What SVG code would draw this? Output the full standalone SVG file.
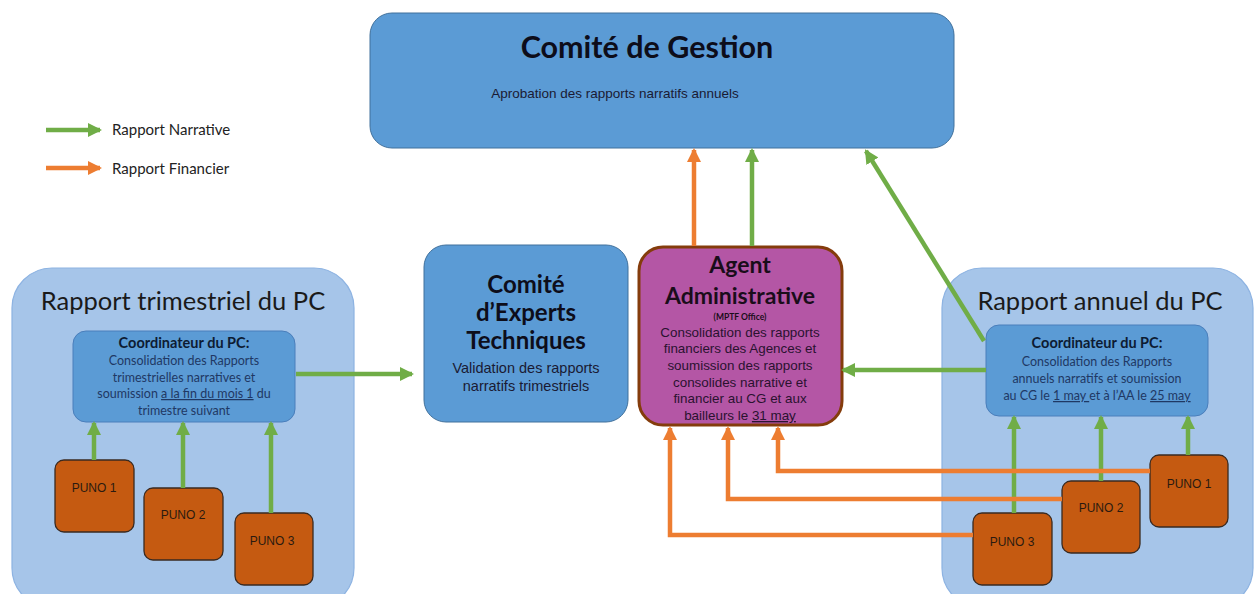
<svg xmlns="http://www.w3.org/2000/svg" width="1254" height="594" viewBox="0 0 1254 594">
<style>
.cont{fill:#A6C5E9;stroke:#8DB3E2;stroke-width:1.2}
.blue{fill:#5B9BD5;stroke:#41719C;stroke-width:1}
.coord{fill:#5B9BD5;stroke:#4A7EBB;stroke-width:1}
.puno{fill:#C55A11;stroke:#3A2A20;stroke-width:1.3}
.agent{fill:#B456A5;stroke:#843C0C;stroke-width:3}
.g{stroke:#70AD47;stroke-width:4.5;fill:none}
.o{stroke:#ED7D31;stroke-width:4.5;fill:none}
.cal{font-family:Lato,"Liberation Sans",sans-serif}
.ari{font-family:"Liberation Sans",Arial,sans-serif}
.ct{font-family:Lato,"Liberation Sans",sans-serif;font-size:12.5px;fill:#1F3864;text-anchor:middle}
.cb{font-family:Lato,"Liberation Sans",sans-serif;font-size:14.5px;font-weight:bold;fill:#0d1b33;text-anchor:middle}
.pt{font-family:"Liberation Sans",Arial,sans-serif;font-size:12px;fill:#2b1a10;text-anchor:middle}
.at{font-family:"Liberation Sans",Arial,sans-serif;font-size:13.4px;fill:#2a1230;text-anchor:middle}
</style>
<defs>
<marker id="ag" markerUnits="userSpaceOnUse" markerWidth="14" markerHeight="14" viewBox="0 0 14 14" refX="12" refY="7" orient="auto"><path d="M0,0 L14,7 L0,14 Z" fill="#70AD47"/></marker>
<marker id="ao" markerUnits="userSpaceOnUse" markerWidth="14" markerHeight="14" viewBox="0 0 14 14" refX="12" refY="7" orient="auto"><path d="M0,0 L14,7 L0,14 Z" fill="#ED7D31"/></marker>
</defs>

<g id="legend">
<line class="g" x1="46" y1="130" x2="100" y2="130" marker-end="url(#ag)"/>
<text class="cal" x="112" y="135" font-size="15" fill="#222">Rapport Narrative</text>
<line class="o" x1="46" y1="168" x2="100" y2="168" marker-end="url(#ao)"/>
<text class="cal" x="112" y="174" font-size="15" fill="#222">Rapport Financier</text>
</g>

<g id="comite-gestion">
<rect class="blue" x="370" y="13" width="584" height="135" rx="22"/>
<text class="cal" x="647" y="58" font-size="30.5" font-weight="bold" fill="#0d0d1a" text-anchor="middle">Comité de Gestion</text>
<text class="ari" x="615" y="98" font-size="13.5" fill="#1a1a33" text-anchor="middle">Aprobation  des rapports narratifs annuels</text>
</g>

<g id="trimestriel">
<rect class="cont" x="12" y="268" width="342" height="340" rx="40"/>
<text class="cal" x="183" y="310" font-size="25.5" fill="#1a1a1a" text-anchor="middle">Rapport trimestriel du PC</text>
</g>

<g id="coord-left">
<rect class="coord" x="73" y="331" width="222" height="91" rx="13"/>
<text class="cb" x="184" y="348">Coordinateur du PC:</text>
<text class="ct" x="184" y="365">Consolidation des Rapports</text>
<text class="ct" x="184" y="382">trimestrielles narratives et</text>
<text class="ct" x="184" y="398">soumission <tspan text-decoration="underline">a la fin du mois 1</tspan> du</text>
<text class="ct" x="184" y="415">trimestre suivant</text>
</g>

<g id="puno1-left"><rect class="puno" x="55" y="460" width="79" height="72" rx="9"/><text class="pt" x="94" y="492">PUNO 1</text></g>
<g id="puno2-left"><rect class="puno" x="144" y="488" width="79" height="72" rx="9"/><text class="pt" x="183" y="519">PUNO 2</text></g>
<g id="puno3-left"><rect class="puno" x="235" y="513" width="78" height="72" rx="9"/><text class="pt" x="272" y="545">PUNO 3</text></g>

<g id="experts">
<rect class="blue" x="424" y="245" width="204" height="177" rx="22"/>
<text class="cal" x="526" y="293" font-size="24" font-weight="bold" fill="#0d0d1a" text-anchor="middle">Comité</text>
<text class="cal" x="526" y="321" font-size="24" font-weight="bold" fill="#0d0d1a" text-anchor="middle">d’Experts</text>
<text class="cal" x="526" y="349" font-size="24" font-weight="bold" fill="#0d0d1a" text-anchor="middle">Techniques</text>
<text class="ari" x="526" y="373" font-size="14.5" fill="#1a1a33" text-anchor="middle">Validation  des rapports</text>
<text class="ari" x="526" y="391" font-size="14.5" fill="#1a1a33" text-anchor="middle">narratifs trimestriels</text>
</g>

<g id="agent">
<rect class="agent" x="639" y="247" width="203" height="178" rx="24"/>
<text class="cal" x="740" y="273" font-size="23" font-weight="bold" fill="#1a0d1a" text-anchor="middle">Agent</text>
<text class="cal" x="740" y="304" font-size="23" font-weight="bold" fill="#1a0d1a" text-anchor="middle">Administrative</text>
<text class="cal" x="740" y="320" font-size="8.5" font-weight="bold" fill="#1a0d1a" text-anchor="middle">(MPTF Office)</text>
<text class="at" x="740" y="337">Consolidation  des rapports</text>
<text class="at" x="740" y="353">financiers des Agences et</text>
<text class="at" x="740" y="370">soumission des rapports</text>
<text class="at" x="740" y="387">consolides narrative  et</text>
<text class="at" x="740" y="403">financier au CG et aux</text>
<text class="at" x="740" y="420">bailleurs le <tspan text-decoration="underline">31 may</tspan></text>
</g>

<g id="annuel">
<rect class="cont" x="942" y="268" width="311" height="340" rx="40"/>
<text class="cal" x="1100" y="310" font-size="25.5" fill="#1a1a1a" text-anchor="middle">Rapport annuel du PC</text>
</g>

<g id="coord-right">
<rect class="coord" x="986" y="325" width="222" height="91" rx="13"/>
<text class="cb" x="1097" y="348">Coordinateur du PC:</text>
<text class="ct" x="1097" y="366">Consolidation des Rapports</text>
<text class="ct" x="1097" y="383">annuels narratifs et soumission</text>
<text class="ct" x="1097" y="400">au CG  le <tspan text-decoration="underline">1 may </tspan>et à l’AA le <tspan text-decoration="underline">25 may</tspan></text>
</g>

<g id="puno1-right"><rect class="puno" x="1150" y="455" width="78" height="72" rx="9"/><text class="pt" x="1189" y="488">PUNO 1</text></g>
<g id="puno2-right"><rect class="puno" x="1062" y="481" width="78" height="72" rx="9"/><text class="pt" x="1101" y="512">PUNO 2</text></g>
<g id="puno3-right"><rect class="puno" x="973" y="513" width="79" height="72" rx="9"/><text class="pt" x="1012" y="546">PUNO 3</text></g>

<g id="connectors">
<line class="g" x1="94" y1="460" x2="94" y2="423" marker-end="url(#ag)"/>
<line class="g" x1="183" y1="488" x2="183" y2="423" marker-end="url(#ag)"/>
<line class="g" x1="271" y1="513" x2="271" y2="423" marker-end="url(#ag)"/>
<line class="g" x1="296" y1="374" x2="412" y2="374" marker-end="url(#ag)"/>
<line class="o" x1="694" y1="246" x2="694" y2="150" marker-end="url(#ao)"/>
<line class="g" x1="752" y1="246" x2="752" y2="150" marker-end="url(#ag)"/>
<line class="g" x1="984" y1="341" x2="866" y2="151" marker-end="url(#ag)"/>
<line class="g" x1="986" y1="370" x2="843" y2="370" marker-end="url(#ag)"/>
<line class="g" x1="1014" y1="513" x2="1014" y2="417" marker-end="url(#ag)"/>
<line class="g" x1="1101" y1="481" x2="1101" y2="417" marker-end="url(#ag)"/>
<line class="g" x1="1188" y1="455" x2="1188" y2="417" marker-end="url(#ag)"/>
<polyline class="o" points="1150,471 778,471 778,428" marker-end="url(#ao)"/>
<polyline class="o" points="1062,499 728,499 728,428" marker-end="url(#ao)"/>
<polyline class="o" points="973,535 670,535 670,428" marker-end="url(#ao)"/>
</g>
</svg>
